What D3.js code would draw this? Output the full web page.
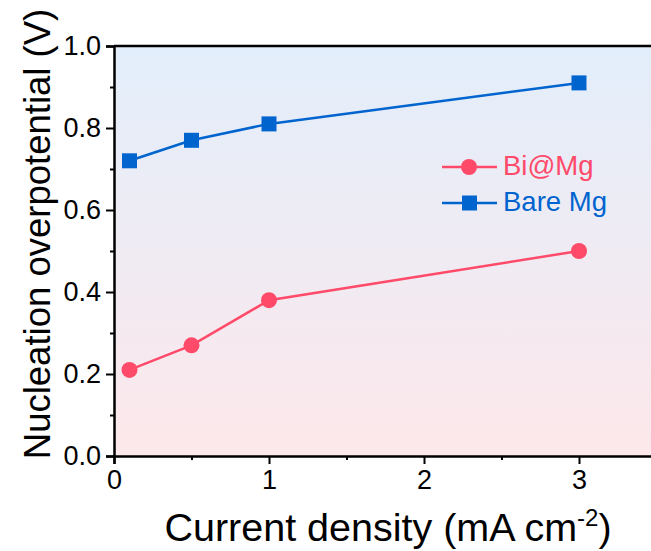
<!DOCTYPE html>
<html lang="en">
<head>
<meta charset="utf-8">
<script src="https://d3js.org/d3.v7.min.js"></script>
<style>
  body { margin: 0; background: #fff; }
  svg { display: block; font-family: "Liberation Sans", Arial, sans-serif; }
</style>
</head>
<body>
<div id="chart"></div>
<script>
// data
var currentDensity = [0.1, 0.5, 1, 3];
var biMg = [0.21, 0.27, 0.38, 0.50];
var bareMg = [0.72, 0.77, 0.81, 0.91];
var seriesNames = ["Bi@Mg", "Bare Mg"];
var xTicks = [0, 1, 2, 3];
var xMinor = [0.5, 1.5, 2.5];
var yTicks = [0.0, 0.2, 0.4, 0.6, 0.8, 1.0];
var yMinor = [0.1, 0.3, 0.5, 0.7, 0.9];

var W = 651, H = 551;
var plotLeft = 114, plotTop = 46, plotBottom = 456;

var red = "#ff4a6a", blue = "#0064cf";

var svg = d3.select("#chart").append("svg")
    .attr("width", W).attr("height", H);

var x = d3.scaleLinear().domain([0, 3.5]).range([plotLeft, plotLeft + 155 * 3.5]);
var y = d3.scaleLinear().domain([0, 1]).range([plotBottom, plotTop]);

// background gradient
var grad = svg.append("defs").append("linearGradient")
    .attr("id", "bg").attr("x1", 0).attr("y1", 0).attr("x2", 0).attr("y2", 1);
grad.append("stop").attr("offset", "0%").attr("stop-color", "#e2eefb");
grad.append("stop").attr("offset", "100%").attr("stop-color", "#fde8eb");

svg.append("rect")
    .attr("x", x(0)).attr("y", y(1))
    .attr("width", x(3.5) - x(0)).attr("height", y(0) - y(1))
    .attr("fill", "url(#bg)");

// top frame line
svg.append("line")
    .attr("x1", x(0)).attr("x2", x(3.5))
    .attr("y1", y(1)).attr("y2", y(1))
    .attr("stroke", "#000").attr("stroke-width", 2.5);

// y axis
svg.append("g")
    .attr("transform", "translate(" + x(0) + ",0)")
    .call(d3.axisLeft(y).tickValues(yTicks).tickFormat(d3.format(".1f")).tickSize(8).tickPadding(5));
svg.append("g")
    .attr("transform", "translate(" + x(0) + ",0)")
    .call(d3.axisLeft(y).tickValues(yMinor).tickFormat("").tickSize(4))
    .select(".domain").remove();

// x axis
svg.append("g")
    .attr("transform", "translate(0," + y(0) + ")")
    .call(d3.axisBottom(x).tickValues(xTicks).tickFormat(d3.format("d")).tickSize(8).tickPadding(6));
svg.append("g")
    .attr("transform", "translate(0," + y(0) + ")")
    .call(d3.axisBottom(x).tickValues(xMinor).tickFormat("").tickSize(4))
    .select(".domain").remove();

svg.selectAll(".domain").attr("stroke", "#000").attr("stroke-width", 2.5);
svg.selectAll(".tick line").attr("stroke", "#000").attr("stroke-width", 2);
svg.selectAll(".tick text")
    .attr("fill", "#000")
    .attr("font-size", 27)
    .attr("font-family", "'Liberation Sans', Arial, sans-serif");

// axis titles
svg.append("text")
    .attr("x", 388).attr("y", 541)
    .attr("text-anchor", "middle")
    .attr("font-size", 39.5)
    .html('Current density (mA cm<tspan dy="-15" font-size="24">-2</tspan><tspan dy="15">)</tspan>');

svg.append("text")
    .attr("transform", "translate(50,234) rotate(-90)")
    .attr("text-anchor", "middle")
    .attr("font-size", 36.5)
    .text("Nucleation overpotential (V)");

// series
var line = d3.line()
    .x(function(d) { return x(d[0]); })
    .y(function(d) { return y(d[1]); });

var redPts = d3.zip(currentDensity, biMg);
var bluePts = d3.zip(currentDensity, bareMg);

svg.append("path").datum(redPts).attr("d", line)
    .attr("fill", "none").attr("stroke", red).attr("stroke-width", 2.5);
svg.append("g").selectAll("circle").data(redPts).enter().append("circle")
    .attr("cx", function(d) { return x(d[0]); })
    .attr("cy", function(d) { return y(d[1]); })
    .attr("r", 8).attr("fill", red);

svg.append("path").datum(bluePts).attr("d", line)
    .attr("fill", "none").attr("stroke", blue).attr("stroke-width", 2.5);
svg.append("g").selectAll("rect").data(bluePts).enter().append("rect")
    .attr("x", function(d) { return x(d[0]) - 7.5; })
    .attr("y", function(d) { return y(d[1]) - 7.5; })
    .attr("width", 15).attr("height", 15).attr("fill", blue);

// legend
var legend = svg.append("g");
var legY = [167, 203];
var legColors = [red, blue];
seriesNames.forEach(function(name, i) {
    var g = legend.append("g").attr("transform", "translate(0," + legY[i] + ")");
    g.append("line").attr("x1", 442).attr("x2", 497).attr("y1", 0).attr("y2", 0)
        .attr("stroke", legColors[i]).attr("stroke-width", 2.5);
    if (i === 0) {
        g.append("circle").attr("cx", 469).attr("cy", 0).attr("r", 8).attr("fill", red);
    } else {
        g.append("rect").attr("x", 462).attr("y", -7.5).attr("width", 15).attr("height", 15).attr("fill", blue);
    }
    g.append("text").attr("x", 503).attr("y", 8)
        .attr("fill", legColors[i])
        .attr("font-size", 27.5)
        .text(name);
});
</script>
</body>
</html>
